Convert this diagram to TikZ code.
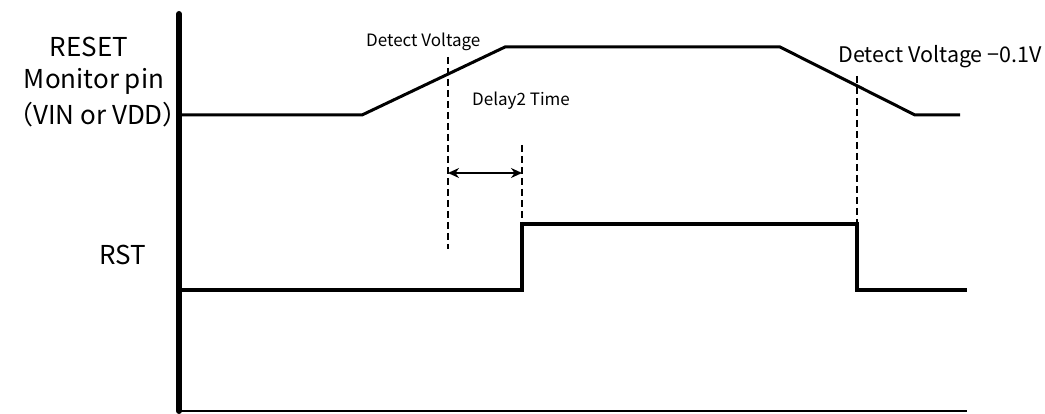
\documentclass[tikz,border=0pt]{standalone}
\usepackage{fontspec}
\setmainfont{Noto Sans CJK JP}
\usetikzlibrary{arrows.meta}
\begin{document}
\begin{tikzpicture}[x=1pt,y=-1pt,
  axis/.style={line width=6pt,line cap=round},
  baseaxis/.style={line width=2pt},
  vin/.style={line width=3pt,line join=miter},
  rst/.style={line width=4.5pt,line join=miter},
  guide/.style={line width=1.5pt,dash pattern=on 7pt off 4pt},
  dim/.style={line width=1.8pt,{Stealth[length=11pt,width=10pt]}-{Stealth[length=11pt,width=10pt]}},
  big/.style={font=\fontsize{26}{30}\selectfont,inner sep=0pt},
  small/.style={font=\fontsize{17}{20}\selectfont,inner sep=0pt},
  medium/.style={font=\fontsize{21.5}{25}\selectfont,inner sep=0pt}]
\useasboundingbox (0,0) rectangle (1045,414);
% axes
\coordinate (top) at (179,14);
\coordinate (origin) at (179,411);
\coordinate (xend) at (967,411);
% VIN waveform
\coordinate (v0) at (182,115);
\coordinate (v1) at (362,115);
\coordinate (v2) at (505,47);
\coordinate (v3) at (780,47);
\coordinate (v4) at (915,115);
\coordinate (v5) at (960,115);
% RST waveform
\coordinate (r0) at (182,290);
\coordinate (r1) at (522,290);
\coordinate (r2) at (522,224);
\coordinate (r3) at (857,224);
\coordinate (r4) at (857,290);
\coordinate (r5) at (967,290);
% labels
\node[big] (lreset) at (89,47) {RESET};
\node[big] (lmon) at (94,81) {Monitor pin};
\node[big,anchor=east] (lvin) at (189,115) {（VIN or VDD）};
\node[big] (lrst) at (123,255) {RST};
\node[small,anchor=west] (ldet) at (366,42) {Detect Voltage};
\node[small,anchor=west] (ldel) at (472,101) {Delay2 Time};
\node[medium,anchor=east] (ldet2) at (1042,57) {Detect Voltage −0.1V};
% lines
\draw[axis] (top) -- (origin);
\draw[baseaxis] (origin) -- (xend);
\draw[vin] (v0) -- (v1) -- (v2) -- (v3) -- (v4) -- (v5);
\draw[rst] (r0) -- (r1) -- (r2) -- (r3) -- (r4) -- (r5);
% guides
\coordinate (g1a) at (448,57);
\coordinate (g1b) at (448,249);
\coordinate (g2a) at (522,145);
\coordinate (g3a) at (857,76);
\draw[guide] (g1a) -- (g1b);
\draw[guide] (g2a) -- (r2);
\draw[guide] (g3a) -- (r3);
% delay arrow
\coordinate (d1) at (448,173);
\coordinate (d2) at (522,173);
\draw[dim] (d1) -- (d2);
\end{tikzpicture}
\end{document}
